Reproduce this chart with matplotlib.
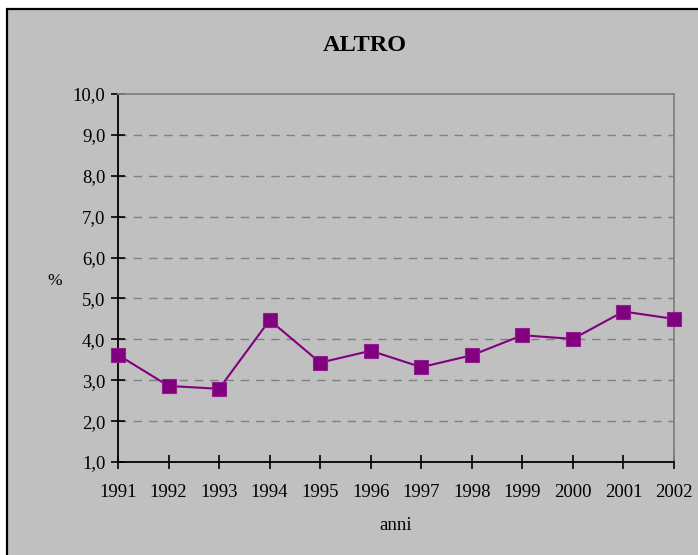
import matplotlib.pyplot as plt
from matplotlib.patches import Rectangle
from matplotlib.ticker import FuncFormatter

# dati
anni = [1991, 1992, 1993, 1994, 1995, 1996, 1997, 1998, 1999, 2000, 2001, 2002]
valori = [3.62, 2.86, 2.79, 4.47, 3.43, 3.72, 3.32, 3.61, 4.10, 4.01, 4.68, 4.50]
y_ticks = [1, 2, 3, 4, 5, 6, 7, 8, 9, 10]

plt.rcParams['font.family'] = ['Liberation Serif', 'DejaVu Serif']

fig = plt.figure(figsize=(6.98, 5.55), dpi=100, facecolor='white')

# sfondo grigio con bordo nero
fig.patches.append(Rectangle((7 / 698, -0.05), 1.1, 1 - 9 / 555 + 0.05,
                             transform=fig.transFigure, facecolor='#C0C0C0',
                             edgecolor='black', linewidth=1.6, zorder=-10))

ax = fig.add_axes([118 / 698, 93 / 555, (674 - 118) / 698, (462 - 94) / 555])
ax.set_facecolor('#C0C0C0')

ax.plot(anni, valori, color='#800080', linewidth=1.5, marker='s',
        markersize=10, markeredgecolor='#8f1f8f', markeredgewidth=0.8,
        markerfacecolor='#800080', clip_on=False, zorder=5)

ax.set_xlim(1991, 2002)
ax.set_ylim(1, 10)
ax.set_xticks(anni)
ax.set_yticks(y_ticks)
ax.yaxis.set_major_formatter(FuncFormatter(lambda v, p: f'{v:.1f}'.replace('.', ',')))

for v in y_ticks[1:-1]:
    ax.axhline(v, color='#808080', linestyle=(0, (6, 5)), linewidth=1, zorder=1)

for s in ['left', 'bottom']:
    ax.spines[s].set_color('black')
    ax.spines[s].set_linewidth(1.3)
for s in ['right', 'top']:
    ax.spines[s].set_color('#808080')
    ax.spines[s].set_linewidth(1.3)

ax.tick_params(direction='inout', length=10, width=1.2, labelsize=13.5, pad=4)
ax.tick_params(axis='x', pad=11)

fig.text(365 / 698, 1 - 45 / 555, 'ALTRO', ha='center', va='center',
         fontsize=17.5, fontweight='bold')
fig.text(55 / 698, 1 - 281 / 555, '%', ha='center', va='center', fontsize=12.5)
fig.text(396 / 698, 1 - 526 / 555, 'anni', ha='center', va='center', fontsize=13.5)

fig.savefig('out.png', dpi=100, facecolor='white')
